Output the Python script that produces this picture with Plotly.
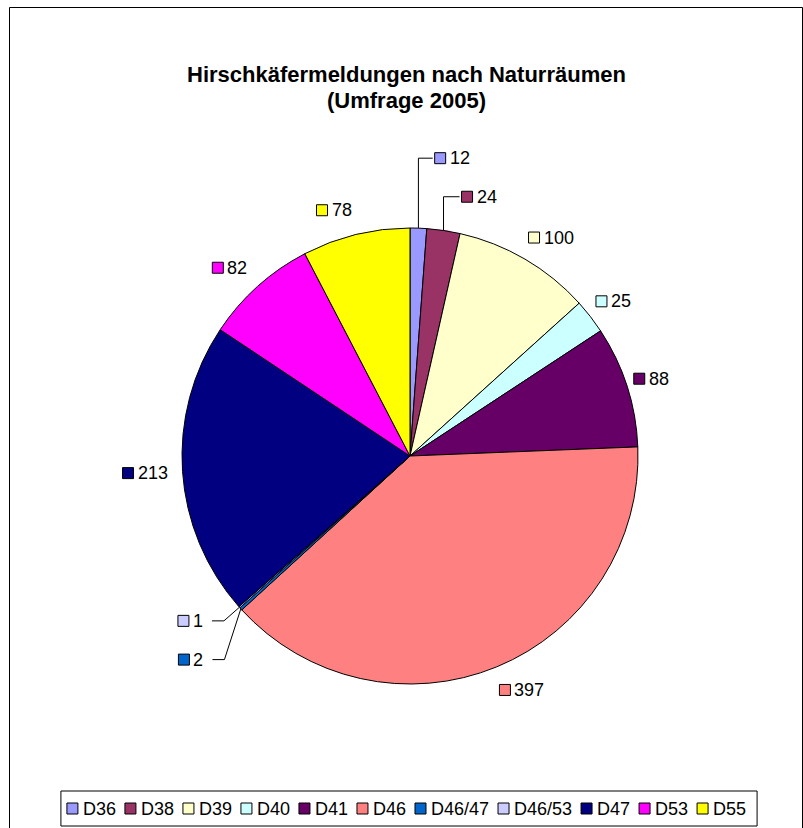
import math
import plotly.graph_objects as go

W, H = 803, 828

# ---------------- data ----------------
title_lines = ["Hirschkäfermeldungen nach Naturräumen", "(Umfrage 2005)"]
labels = ["D36", "D38", "D39", "D40", "D41", "D46", "D46/47", "D46/53", "D47", "D53", "D55"]
values = [12, 24, 100, 25, 88, 397, 2, 1, 213, 82, 78]
colors = ["#9999FF", "#993366", "#FFFFCC", "#CCFFFF", "#660066", "#FF8080",
          "#0066CC", "#CCCCFF", "#000080", "#FF00FF", "#FFFF00"]

# ---------------- layout constants (pixels) ----------------
CX, CY, R = 410, 456, 228
FONT = "Liberation Sans, Arial, sans-serif"
FS = 18
TITLE_FS = 22
GAP_RIGHT, GAP_LEFT, GAP_Y = 7, 14, 16
# manual shifts for labels that Excel moved away (with leader lines)
LABEL_NUDGE = {0: (16, -45), 1: (17, -9), 6: (-26, 34), 7: (-25, -3)}
LEADER = {0, 1, 6, 7}

def px(x):
    return x / W

def py(y):
    return 1 - y / H

CW = {"D": 0.722, "/": 0.278}
def text_w(s, fs=FS):
    return sum(CW.get(ch, 0.556) for ch in s) * fs

shapes = []
annotations = []

def rect(x0, y0, x1, y1, fill, lw=1):
    shapes.append(dict(type="rect", xref="paper", yref="paper",
                       x0=px(x0), x1=px(x1), y0=py(y1), y1=py(y0),
                       fillcolor=fill, line=dict(color="black", width=lw), layer="above"))

def line(x0, y0, x1, y1):
    shapes.append(dict(type="line", xref="paper", yref="paper",
                       x0=px(x0), x1=px(x1), y0=py(y0), y1=py(y1),
                       line=dict(color="black", width=1), layer="above"))

def text(x, y, s, fs=FS, anchor="left", bold=False):
    annotations.append(dict(xref="paper", yref="paper", x=px(x), y=py(y), text=s,
                            showarrow=False, xanchor=anchor, yanchor="middle",
                            borderpad=0, borderwidth=0,
                            font=dict(family=FONT, size=fs, color="black",
                                      weight="bold" if bold else "normal")))

# ---------------- pie ----------------
fig = go.Figure(go.Pie(
    labels=labels, values=values, sort=False, direction="clockwise", rotation=0,
    marker=dict(colors=colors, line=dict(color="black", width=1)),
    textinfo="none", hoverinfo="label+value", showlegend=False,
    domain=dict(x=[px(CX - R), px(CX + R)], y=[py(CY + R), py(CY - R)]),
))

# ---------------- data labels ----------------
total = sum(values)
cum = 0
for i, v in enumerate(values):
    th = 2 * math.pi * (cum + v / 2) / total
    cum += v
    s, c = math.sin(th), math.cos(th)
    lab = str(v)
    gw = 16 + text_w(lab)
    cy = CY - (R + GAP_Y) * c - 9 * c
    if s >= 0:
        left = CX + (R + GAP_RIGHT) * s
    else:
        left = CX + (R + GAP_LEFT) * s - gw
    dx, dy = LABEL_NUDGE.get(i, (0, 0))
    left += dx
    cy += dy
    rect(left, cy - 5.5, left + 11, cy + 5.5, colors[i])
    text(left + 15, cy, lab)
    if i in LEADER:
        rim = (CX + R * s, CY - R * c)
        if s >= 0:
            line(rim[0], rim[1], rim[0], cy)
            line(rim[0], cy, left - 2, cy)
        else:
            right = left + gw
            elbow = right + 20
            line(rim[0], rim[1], elbow, cy)
            line(elbow, cy, right + 8, cy)

# ---------------- legend ----------------
LEG_CX, LEG_Y0, LEG_Y1 = 409, 791, 826
steps = [17 + text_w(l) + 8 for l in labels]
inner = sum(steps) - 8
x = LEG_CX - (inner + 16) / 2 + 6
rect(x - 6, LEG_Y0, x + inner + 10, LEG_Y1, "white")
lc = (LEG_Y0 + LEG_Y1) / 2
for l, col, st in zip(labels, colors, steps):
    rect(x, lc - 5.5, x + 11, lc + 5.5, col)
    text(x + 16, lc, l)
    x += st

# ---------------- title & frame ----------------
text(406, 75, title_lines[0], fs=TITLE_FS, anchor="center", bold=True)
text(406, 101, title_lines[1], fs=TITLE_FS, anchor="center", bold=True)
shapes.insert(0, dict(type="rect", xref="paper", yref="paper",
                      x0=px(9.5), x1=px(802.5), y0=py(829), y1=py(7.5),
                      line=dict(color="black", width=1), fillcolor="rgba(0,0,0,0)", layer="below"))

fig.update_layout(width=W, height=H, margin=dict(l=0, r=0, t=0, b=0),
                  paper_bgcolor="white", plot_bgcolor="white",
                  shapes=shapes, annotations=annotations, showlegend=False)
fig.write_html("out.html")
